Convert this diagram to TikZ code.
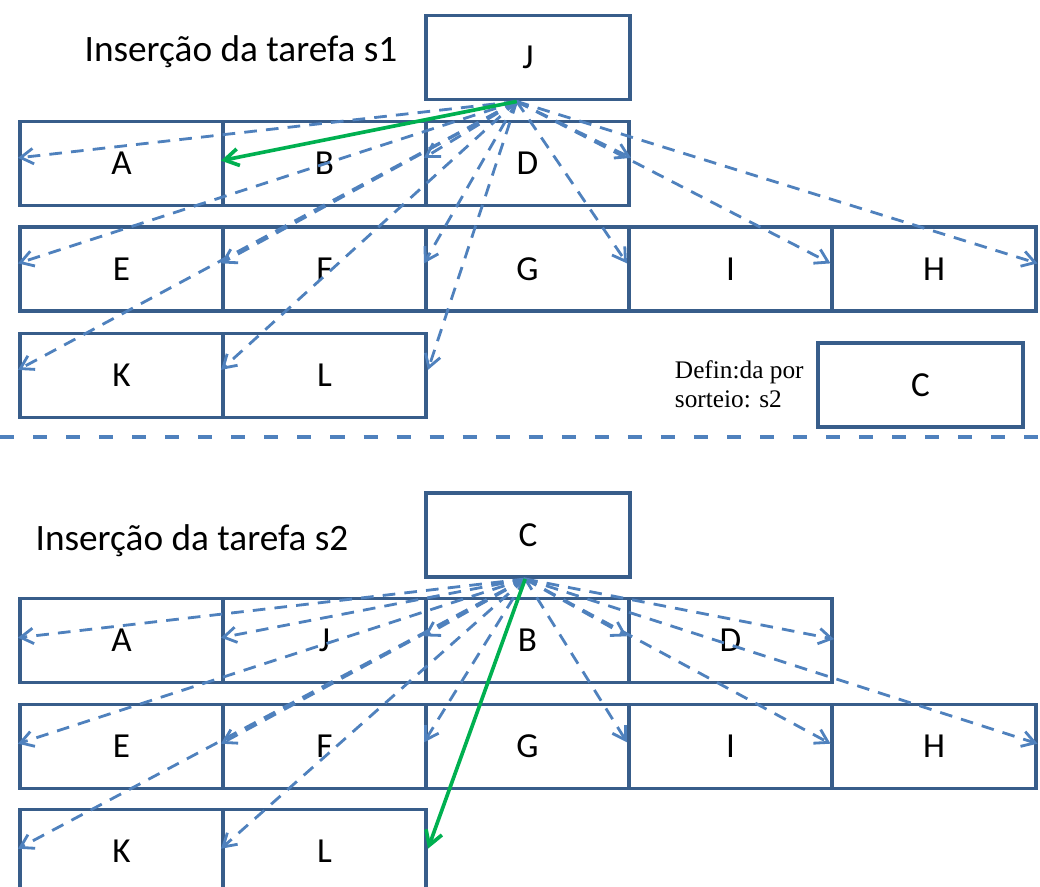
\documentclass[tikz,border=0pt]{standalone}
\usepackage{fontspec}
\setmainfont{Carlito}
\newfontfamily\notefont{Liberation Serif}
\usetikzlibrary{arrows.meta}

\definecolor{boxblue}{RGB}{56,93,138}
\definecolor{arrowblue}{RGB}{79,129,189}
\definecolor{pickgreen}{RGB}{0,176,80}

\tikzset{
  slot/.style={draw=boxblue, line width=2.8pt, minimum width=5.075cm, minimum height=2.1cm, inner sep=0pt, font=\fontsize{25}{29}\selectfont},
  ins/.style={draw=arrowblue, line width=2pt, dash pattern=on 9pt off 6.5pt, -{Straight Barb[length=9pt,width=11pt]}},
  pick/.style={draw=pickgreen, line width=2.6pt, -{Straight Barb[length=10pt,width=12pt]}},
  heading/.style={font=\fontsize{26.5}{30}\selectfont}
}

\begin{document}
\begin{tikzpicture}[x=0.025cm, y=-0.025cm]
  \clip (0,0) rectangle (1040,887);
  % first insertion: s1
  \node[heading] (t1) at (241,52) {Inserção da tarefa s1};
  \node[slot, minimum width=5.1cm] (J1) at (528,57.5) {J};
  \node[slot] (A1) at (121.5,163.5) {A}; \node[slot] (B1) at (324.5,163.5) {B}; \node[slot] (D1) at (527.5,163.5) {D};
  \node[slot] (E1) at (121.5,269) {E}; \node[slot] (F1) at (324.5,269) {F}; \node[slot] (G1) at (527.5,269) {G}; \node[slot] (I1) at (730.5,269) {I}; \node[slot] (H1) at (934,269) {H};
  \node[slot] (K1) at (121.5,375.5) {K}; \node[slot] (L1) at (324.5,375.5) {L};
  \node[slot, minimum width=5.125cm] (C1) at (920.5,385) {C};
  \node[anchor=west, align=left, font=\notefont\fontsize{18}{20.5}\selectfont] (n1) at (670,384) {Defin:da por\\sorteio: s2};
  \coordinate (src1) at ([xshift=-8pt]J1.south);
  \draw[ins] (src1) -- ([yshift=4pt]A1.west); \draw[ins] (src1) -- ([yshift=4pt]D1.west); \draw[ins] (src1) -- ([yshift=4pt]D1.east);
  \draw[ins] (src1) -- ([yshift=4pt]E1.west); \draw[ins] (src1) -- ([yshift=4pt]F1.west); \draw[ins] (src1) -- ([yshift=4pt]G1.west);
  \draw[ins] (src1) -- ([yshift=4pt]I1.west); \draw[ins] (src1) -- ([yshift=4pt]H1.west); \draw[ins] (src1) -- ([yshift=4pt]H1.east);
  \draw[ins] (src1) -- ([yshift=4pt]K1.west); \draw[ins] (src1) -- ([yshift=4pt]L1.west); \draw[ins] (src1) -- ([yshift=4pt]L1.east);
  \draw[pick] (src1) -- ([yshift=2pt]B1.west);
  % separator
  \draw[arrowblue, line width=2.8pt, dash pattern=on 10pt off 13.5pt] (0,437) -- (1040,437);
  % second insertion: s2
  \node[heading] (t2) at (192,541) {Inserção da tarefa s2};
  \node[slot, minimum width=5.1cm] (C2) at (528,535) {C};
  \node[slot] (A2) at (121.5,640.5) {A}; \node[slot] (J2) at (324.5,640.5) {J}; \node[slot] (B2) at (527.5,640.5) {B}; \node[slot] (D2) at (730.5,640.5) {D};
  \node[slot] (E2) at (121.5,746.5) {E}; \node[slot] (F2) at (324.5,746.5) {F}; \node[slot] (G2) at (527.5,746.5) {G}; \node[slot] (I2) at (730.5,746.5) {I}; \node[slot] (H2) at (934,746.5) {H};
  \node[slot] (K2) at (121.5,851.5) {K}; \node[slot] (L2) at (324.5,851.5) {L};
  \coordinate (src2) at ([xshift=-2pt]C2.south);
  \draw[ins] (src2) -- ([yshift=2pt]A2.west); \draw[ins] (src2) -- ([yshift=2pt]J2.west); \draw[ins] (src2) -- ([yshift=3pt]B2.west);
  \draw[ins] (src2) -- ([yshift=3pt]D2.west); \draw[ins] (src2) -- ([yshift=1pt]D2.east);
  \draw[ins] (src2) -- ([yshift=2pt]E2.west); \draw[ins] (src2) -- ([yshift=2pt]F2.west); \draw[ins] (src2) -- ([yshift=3pt]G2.west);
  \draw[ins] (src2) -- ([yshift=3pt]I2.west); \draw[ins] (src2) -- ([yshift=2pt]H2.west); \draw[ins] (src2) -- ([yshift=2pt]H2.east);
  \draw[ins] (src2) -- ([yshift=2pt]K2.west); \draw[ins] (src2) -- ([yshift=2pt]L2.west);
  \draw[pick] (src2) -- ([yshift=2pt]L2.east);
\end{tikzpicture}
\end{document}
